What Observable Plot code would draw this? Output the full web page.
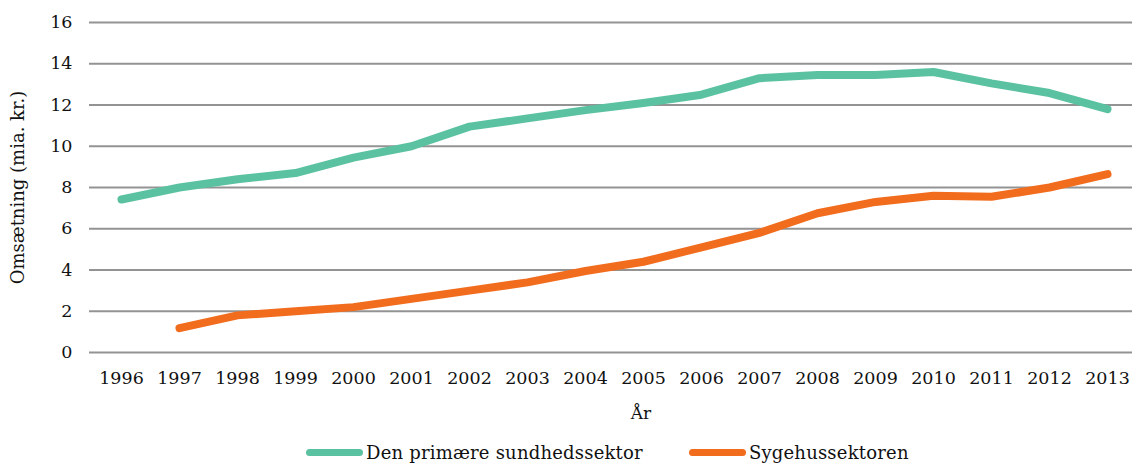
<!DOCTYPE html>
<html>
<head>
<meta charset="utf-8">
<script src="https://cdn.jsdelivr.net/npm/d3@7"></script>
<script src="https://cdn.jsdelivr.net/npm/@observablehq/plot@0.6"></script>
<style>
  body { margin: 0; background: #fff; font-family: "DejaVu Serif", serif; }
  #wrap { position: relative; width: 1132px; height: 467px; }
  #legend { position: absolute; left: 306px; top: 442px; display: flex; align-items: center; font-size: 18px; color: #111; white-space: nowrap; letter-spacing: 0.2px; }
  .item { display: flex; align-items: center; }
  .sw { width: 57px; height: 7px; border-radius: 4px; margin-right: 3px; }
</style>
</head>
<body>
<div id="wrap"><div id="chart"></div><div id="legend"></div></div>
<script>
const years = [1996,1997,1998,1999,2000,2001,2002,2003,2004,2005,2006,2007,2008,2009,2010,2011,2012,2013];
const primaer = [7.42,8.0,8.4,8.7,9.45,10.0,10.95,11.35,11.75,12.1,12.5,13.3,13.45,13.45,13.6,13.05,12.58,11.8];
const sygehus = [null,1.18,1.8,2.0,2.2,2.6,3.0,3.4,3.95,4.4,5.1,5.8,6.75,7.3,7.6,7.55,8.0,8.65];
const yTicks = [0,2,4,6,8,10,12,14,16];
const seriesNames = ["Den primære sundhedssektor", "Sygehussektoren"];
const colors = ["#5bc2a1", "#f26c1e"];

const rows = [];
years.forEach((yr, i) => {
  rows.push({year: yr, value: primaer[i], series: seriesNames[0]});
  if (sygehus[i] != null) rows.push({year: yr, value: sygehus[i], series: seriesNames[1]});
});

const chart = Plot.plot({
  width: 1132,
  height: 432,
  marginTop: 22,
  marginBottom: 80,
  marginLeft: 89,
  marginRight: 0,
  style: {fontFamily: "DejaVu Serif, serif", fontSize: "17.5px", color: "#111", background: "#fff"},
  x: {type: "point", domain: years, range: [118, 1110], padding: 0, label: null},
  y: {domain: [0, 16], ticks: yTicks, label: null},
  color: {domain: seriesNames, range: colors},
  marks: [
    Plot.ruleY(yTicks, {stroke: "#939393", strokeWidth: 2, strokeOpacity: 1}),
    Plot.axisX({tickSize: 0, tickPadding: 19, tickFormat: d => String(d), label: null}),
    Plot.axisY({ticks: yTicks, tickSize: 0, tickPadding: 17, label: null}),
    Plot.line(rows, {x: "year", y: "value", z: "series", stroke: "series", strokeWidth: 8, strokeLinecap: "round", strokeLinejoin: "round"}),
    Plot.text(["År"], {frameAnchor: "bottom", dx: 30, dy: 66, fontSize: 17, fill: "#111"}),
    Plot.text(["Omsætning (mia. kr.)"], {frameAnchor: "left", textAnchor: "middle", dx: -71, rotate: -90, fontSize: 18, fill: "#111"})
  ]
});
document.getElementById("chart").appendChild(chart);

const legend = document.getElementById("legend");
seriesNames.forEach((name, i) => {
  const it = document.createElement("div");
  it.className = "item";
  if (i > 0) it.style.marginLeft = "46px";
  const sw = document.createElement("div");
  sw.className = "sw";
  sw.style.background = colors[i];
  const tx = document.createElement("span");
  tx.textContent = name;
  it.appendChild(sw); it.appendChild(tx);
  legend.appendChild(it);
});
</script>
</body>
</html>
